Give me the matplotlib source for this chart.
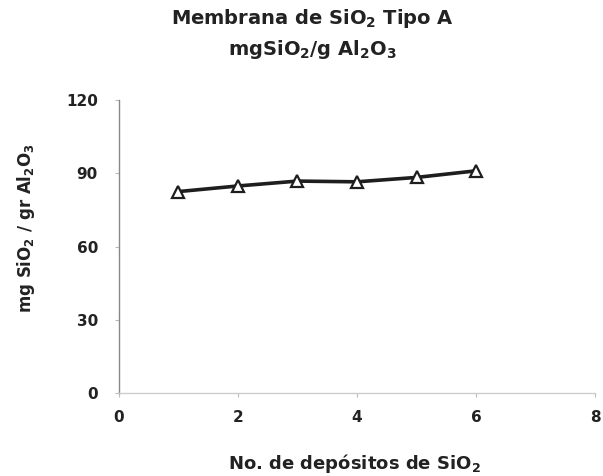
import matplotlib.pyplot as plt

# ----------------------------------------
# Data
# ----------------------------------------
depositos = [1, 2, 3, 4, 5, 6]
mg_sio2 = [82.5, 84.8, 86.8, 86.5, 88.3, 91.0]

x_ticks = [0, 2, 4, 6, 8]
y_ticks = [0, 30, 60, 90, 120]

plt.rcParams['font.family'] = ['DejaVu Sans']
plt.rcParams['font.weight'] = 'bold'
plt.rcParams['mathtext.fontset'] = 'custom'
plt.rcParams['mathtext.rm'] = 'DejaVu Sans:bold'
plt.rcParams['mathtext.it'] = 'DejaVu Sans:bold'
plt.rcParams['mathtext.bf'] = 'DejaVu Sans:bold'

fig = plt.figure(figsize=(6.03, 4.76), dpi=100)
ax = fig.add_axes([0.197, 0.174, 0.79, 0.616])

ax.plot(depositos, mg_sio2, color='#1e1e1e', linewidth=2.6,
        marker='^', markersize=9, markerfacecolor='white',
        markeredgecolor='#1e1e1e', markeredgewidth=1.6)

ax.set_xlim(0, 8)
ax.set_ylim(0, 120)
ax.set_xticks(x_ticks)
ax.set_yticks(y_ticks)
ax.tick_params(axis='both', labelsize=11, length=3, color='#bbbbbb')
ax.tick_params(axis='y', pad=12)
ax.tick_params(axis='x', pad=9)
for lbl in ax.get_xticklabels() + ax.get_yticklabels():
    lbl.set_fontweight('bold')
    lbl.set_color('#222222')

ax.spines['top'].set_visible(False)
ax.spines['right'].set_visible(False)
ax.spines['left'].set_color('#888888')
ax.spines['left'].set_linewidth(1.0)
ax.spines['bottom'].set_color('#cccccc')
ax.spines['bottom'].set_linewidth(1.0)

# axis titles placed where they sit in the reference
fig.text(0.587, 0.027, 'No. de depósitos de SiO$_2$', ha='center', va='center',
         fontsize=13, fontweight='bold', color='#222222')
fig.text(0.043, 0.521, 'mg SiO$_2$ / gr Al$_2$O$_3$', ha='center', va='center',
         rotation=90, fontsize=12, fontweight='bold', color='#222222')

fig.text(0.518, 0.962, 'Membrana de SiO$_2$ Tipo A', ha='center', va='center',
         fontsize=14, fontweight='bold', color='#222222')
fig.text(0.518, 0.895, 'mgSiO$_2$/g Al$_2$O$_3$', ha='center', va='center',
         fontsize=14, fontweight='bold', color='#222222')

fig.savefig('out.png', dpi=100)
